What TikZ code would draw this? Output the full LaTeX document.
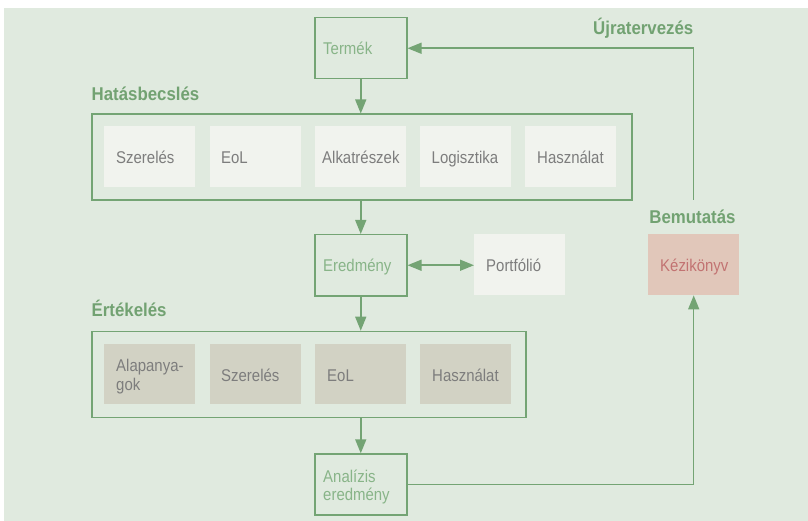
\documentclass[tikz,border=0pt]{standalone}
\usepackage{fontspec}
\setmainfont{Liberation Sans}
\newfontfamily\bodyfont{Liberation Sans}[FakeStretch=0.88]
\newfontfamily\headfont{Liberation Sans Bold}[FakeStretch=0.91]
\usetikzlibrary{arrows.meta}
\definecolor{bgc}{HTML}{E0EADF}
\definecolor{lineg}{HTML}{74A474}
\definecolor{headg}{HTML}{72A272}
\definecolor{boxtxt}{HTML}{88B488}
\definecolor{graytxt}{HTML}{7D7D7D}
\definecolor{lightfill}{HTML}{F1F3EE}
\definecolor{darkfill}{HTML}{D2D2C4}
\definecolor{redfill}{HTML}{E1C7BA}
\definecolor{redtxt}{HTML}{C27372}
\begin{document}
\begin{tikzpicture}[x=1pt,y=-1pt,
  gbox/.style={draw=lineg, line width=1.5pt, inner sep=0pt, anchor=north west, minimum width=92pt, minimum height=61pt},
  frame/.style={draw=lineg, line width=1.5pt, inner sep=0pt, anchor=north west, minimum height=86pt},
  lightbox/.style={fill=lightfill, inner sep=0pt, anchor=north west, minimum width=91pt, minimum height=61pt},
  darkbox/.style={fill=darkfill, inner sep=0pt, anchor=north west, minimum width=91pt, minimum height=60pt},
  redbox/.style={fill=redfill, inner sep=0pt, anchor=north west, minimum width=91pt, minimum height=61pt},
  txt/.style={inner sep=0pt, anchor=base west, align=left, font=\bodyfont\fontsize{17}{18.3}\selectfont},
  gtxt/.style={txt, text=boxtxt},
  ktxt/.style={txt, text=graytxt},
  rtxt/.style={txt, text=redtxt},
  head/.style={inner sep=0pt, text=headg, font=\headfont\fontsize{18.5}{20}\selectfont},
  arr/.style={draw=lineg, line width=1.5pt, -{Triangle[length=14pt,width=11pt]}},
  arrtwo/.style={draw=lineg, line width=1.5pt, {Triangle[length=14pt,width=11pt]}-{Triangle[length=14pt,width=11pt]}}
]
\useasboundingbox (0,0) rectangle (808,521);
\fill[bgc] (4,8) rectangle (808,521);

% top product box
\node[gbox] (termek) at (314,17) {};
\node[gtxt] (termekT) at (323,55) {Termék};

% Hatásbecslés
\node[head, anchor=base west] (hatasL) at (91.5,100.7) {Hatásbecslés};
\node[frame, minimum width=540pt] (hatas) at (91,113.5) {};
\node[lightbox] (h1) at (104,126) {};
\node[lightbox] (h2) at (209.5,126) {};
\node[lightbox] (h3) at (315,126) {};
\node[lightbox] (h4) at (420,126) {};
\node[lightbox] (h5) at (525,126) {};
\node[ktxt] (h1T) at (116,164) {Szerelés};
\node[ktxt] (h2T) at (221,164) {EoL};
\node[ktxt] (h3T) at (322,164) {Alkatrészek};
\node[ktxt] (h4T) at (431.5,164) {Logisztika};
\node[ktxt] (h5T) at (537,164) {Használat};

% Eredmény row
\node[gbox] (eredmeny) at (314,234) {};
\node[gtxt] (eredmenyT) at (323,272) {Eredmény};
\node[lightbox] (portfolio) at (474,234) {};
\node[ktxt] (portfolioT) at (486,272) {Portfólió};
\node[head, anchor=base] (bemutL) at (692.5,224) {Bemutatás};
\node[redbox] (kezi) at (648,234) {};
\node[rtxt] (keziT) at (660,272) {Kézikönyv};

% Értékelés
\node[head, anchor=base west] (ertekL) at (91.5,316.7) {Értékelés};
\node[frame, minimum width=434pt] (ertek) at (91,330.7) {};
\node[darkbox] (e1) at (104,343.3) {};
\node[darkbox] (e2) at (209.5,343.3) {};
\node[darkbox] (e3) at (315,343.3) {};
\node[darkbox] (e4) at (420,343.3) {};
\node[ktxt] (e1T) at (116,390) {Alapanya-\\gok};
\node[ktxt] (e2T) at (221,381) {Szerelés};
\node[ktxt] (e3T) at (327,381) {EoL};
\node[ktxt] (e4T) at (432,381) {Használat};

% Analízis
\node[gbox] (analizis) at (314,453.3) {};
\node[gtxt] (analizisT) at (323,500.6) {Analízis\\eredmény};

% Újratervezés
\node[head, anchor=base east] (ujraL) at (693.5,35) {Újratervezés};
\coordinate (ujra) at (693.5,200);

% connectors
\draw[arr] (termek.south) -- (termek.south |- hatas.north);
\draw[arr] (eredmeny.north |- hatas.south) -- (eredmeny.north);
\draw[arrtwo] (eredmeny.east) -- (eredmeny.east -| portfolio.west);
\draw[arr] (eredmeny.south) -- (eredmeny.south |- ertek.north);
\draw[arr] (analizis.north |- ertek.south) -- (analizis.north);
\draw[arr] (analizis.east) -| (kezi.south);
\draw[arr] (ujra) |- (termek.east);
\end{tikzpicture}
\end{document}
